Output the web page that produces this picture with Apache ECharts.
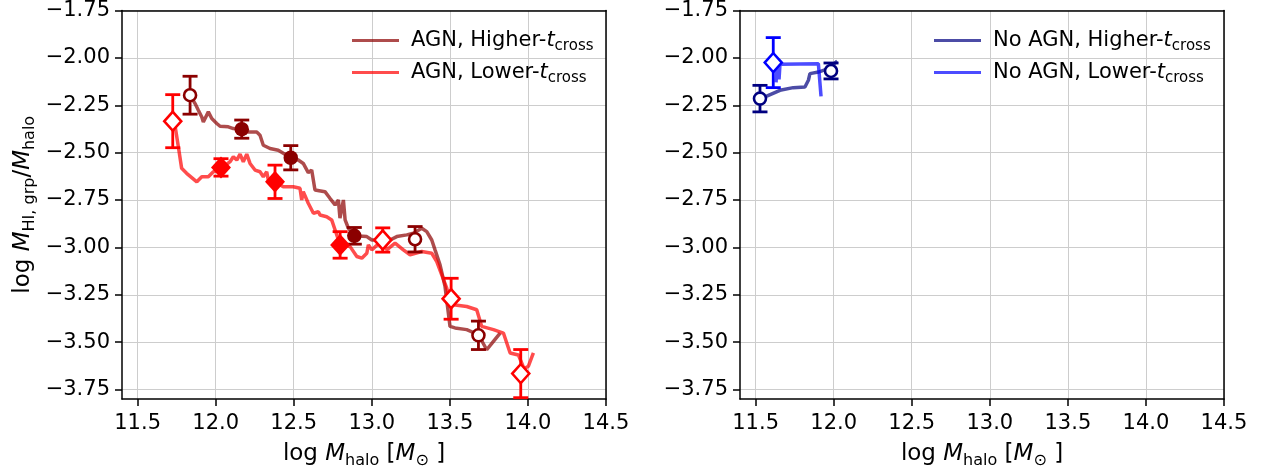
<!DOCTYPE html>
<html><head><meta charset="utf-8">
<script src="https://cdn.jsdelivr.net/npm/echarts@6/dist/echarts.min.js"></script>
<style>html,body{margin:0;padding:0;background:#fff}#c{width:1266px;height:474px}</style>
</head><body><div id="c"></div>
<script>
// ---- tick values ----
const xTicks = [11.5, 12.0, 12.5, 13.0, 13.5, 14.0, 14.5];
const yTicks = [-3.75, -3.5, -3.25, -3.0, -2.75, -2.5, -2.25, -2.0, -1.75];

// ---- running-median curves [log Mhalo, log MHI/Mhalo] ----
const agnHigherLine = [[11.836,-2.197],[11.868,-2.241],[11.889,-2.276],[11.911,-2.312],[11.921,-2.338],[11.953,-2.285],[11.975,-2.320],[12.007,-2.346],[12.028,-2.361],[12.081,-2.364],[12.113,-2.373],[12.162,-2.378],[12.209,-2.391],[12.263,-2.391],[12.284,-2.408],[12.305,-2.461],[12.348,-2.478],[12.401,-2.487],[12.481,-2.527],[12.529,-2.539],[12.561,-2.557],[12.593,-2.605],[12.604,-2.609],[12.615,-2.592],[12.636,-2.697],[12.700,-2.706],[12.732,-2.741],[12.765,-2.776],[12.786,-2.750],[12.796,-2.846],[12.818,-2.750],[12.829,-2.855],[12.850,-2.899],[12.888,-2.939],[12.968,-2.943],[13.000,-2.961],[13.032,-2.961],[13.074,-2.978],[13.117,-2.961],[13.160,-2.943],[13.224,-2.934],[13.266,-2.925],[13.320,-2.899],[13.352,-2.917],[13.384,-2.961],[13.405,-3.013],[13.437,-3.092],[13.469,-3.206],[13.501,-3.417],[13.533,-3.425],[13.608,-3.434],[13.683,-3.461],[13.736,-3.540],[13.779,-3.496],[13.822,-3.452]];
const agnLowerLine = [[11.736,-2.339],[11.761,-2.469],[11.782,-2.583],[11.814,-2.609],[11.879,-2.654],[11.911,-2.627],[11.953,-2.627],[11.985,-2.601],[12.039,-2.583],[12.092,-2.548],[12.113,-2.522],[12.135,-2.539],[12.156,-2.508],[12.177,-2.548],[12.199,-2.508],[12.220,-2.557],[12.252,-2.592],[12.284,-2.601],[12.305,-2.627],[12.327,-2.601],[12.337,-2.645],[12.380,-2.654],[12.433,-2.680],[12.497,-2.680],[12.540,-2.688],[12.551,-2.750],[12.561,-2.706],[12.593,-2.767],[12.626,-2.820],[12.658,-2.812],[12.668,-2.829],[12.711,-2.838],[12.743,-2.855],[12.765,-2.908],[12.797,-2.987],[12.861,-2.996],[12.904,-3.048],[12.936,-3.057],[12.968,-3.031],[12.978,-2.987],[13.000,-3.013],[13.070,-2.961],[13.096,-3.013],[13.149,-2.978],[13.202,-3.013],[13.245,-3.039],[13.320,-3.022],[13.384,-3.031],[13.416,-3.075],[13.448,-3.145],[13.480,-3.215],[13.501,-3.276],[13.522,-3.303],[13.608,-3.312],[13.672,-3.329],[13.704,-3.417],[13.779,-3.434],[13.843,-3.452],[13.886,-3.557],[13.939,-3.568],[13.975,-3.640],[14.003,-3.627],[14.035,-3.557]];
const noAgnHigherLine = [[11.528,-2.213],[11.560,-2.206],[11.656,-2.171],[11.741,-2.157],[11.816,-2.154],[11.838,-2.118],[11.848,-2.083],[11.902,-2.075],[11.966,-2.057],[12.023,-2.017]];
const noAgnLowerLine = [[11.631,-2.129],[11.637,-2.032],[11.650,-2.113],[11.656,-2.034],[11.902,-2.031],[11.919,-2.203]];

// ---- binned points [x, y, error, open(1)/filled(0)] ----
const agnHigherPts = [[11.836,-2.197,0.100,1],[12.167,-2.376,0.048,0],[12.481,-2.527,0.064,0],[12.888,-2.939,0.044,0],[13.277,-2.957,0.067,1],[13.683,-3.464,0.075,1]];
const agnLowerPts = [[11.725,-2.334,0.140,1],[12.034,-2.578,0.046,0],[12.380,-2.654,0.088,0],[12.797,-2.987,0.070,0],[13.070,-2.961,0.064,1],[13.508,-3.271,0.108,1],[13.954,-3.666,0.127,1]];
const noAgnHigherPts = [[11.528,-2.215,0.070,1],[11.983,-2.069,0.042,1]];
const noAgnLowerPts = [[11.613,-2.025,0.132,1]];

const FONT = 'DejaVu Sans';
const C = {
  agnHi: 'rgba(139,0,0,0.7)', agnLo: 'rgba(255,0,0,0.7)',
  noHi: 'rgba(0,0,128,0.7)', noLo: 'rgba(0,0,255,0.7)',
  mAgnHi: '#8b0000', mAgnLo: '#ff0000', mNoHi: '#000080', mNoLo: '#0000ff'
};

const chart = echarts.init(document.getElementById('c'), null, {renderer: 'canvas'});

const titleRich = {
  n: {fontFamily: FONT, fontSize: 23, color: '#000', lineHeight: 25},
  i: {fontFamily: FONT, fontSize: 23, color: '#000', fontStyle: 'italic', lineHeight: 25},
  s: {fontFamily: FONT, fontSize: 16, color: '#000', lineHeight: 16, padding: [13, 0, 0, 0]}
};
const legRich = {
  n: {fontFamily: FONT, fontSize: 21, color: '#000', lineHeight: 23},
  i: {fontFamily: FONT, fontSize: 21, color: '#000', fontStyle: 'italic', lineHeight: 23},
  s: {fontFamily: FONT, fontSize: 15, color: '#000', lineHeight: 15, padding: [12, 0, 0, 0]}
};
const GRIDC = '#cdcdcd';

function xAxis(idx) {
  return {
    type: 'value', gridIndex: idx, min: 11.4, max: 14.5,
    axisLine: {show: true, lineStyle: {color: '#000', width: 1.5}},
    axisTick: {show: true, length: 7, lineStyle: {color: '#000', width: 1.5}, customValues: xTicks},
    axisLabel: {fontFamily: FONT, fontSize: 21, color: '#000', margin: 14, customValues: xTicks,
      formatter: v => v.toFixed(1)},
    splitLine: {show: true, lineStyle: {color: GRIDC, width: 1}},
    name: '{n|log }{i|M}{s|halo}{n| [}{i|M}{s|⊙}{n| ]}',
    nameLocation: 'middle', nameGap: 43,
    nameTextStyle: {rich: titleRich}
  };
}
function frameX(idx) {
  return {type: 'value', gridIndex: idx, min: 11.4, max: 14.5, position: 'top',
    axisLine: {show: true, onZero: false, lineStyle: {color: '#000', width: 1.5}},
    axisTick: {show: false}, axisLabel: {show: false}, splitLine: {show: false}};
}
function frameY(idx) {
  return {type: 'value', gridIndex: idx, min: -3.8, max: -1.75, position: 'right',
    axisLine: {show: true, onZero: false, lineStyle: {color: '#000', width: 1.5}},
    axisTick: {show: false}, axisLabel: {show: false}, splitLine: {show: false}};
}
function yAxis(idx, withName) {
  const a = {
    type: 'value', gridIndex: idx, min: -3.8, max: -1.75,
    axisLine: {show: true, lineStyle: {color: '#000', width: 1.5}},
    axisTick: {show: true, length: 7, lineStyle: {color: '#000', width: 1.5}, customValues: yTicks},
    axisLabel: {fontFamily: FONT, fontSize: 21, color: '#000', margin: 12, customValues: yTicks,
      formatter: v => v.toFixed(2).replace('-', '\u2212')},
    splitLine: {show: true, lineStyle: {color: GRIDC, width: 1}}
  };
  if (withName) {
    a.name = '{n|log }{i|M}{s|HI, grp}{n|/}{i|M}{s|halo}';
    a.nameLocation = 'middle';
    a.nameRotate = 90;
    a.nameGap = 86;
    a.nameTextStyle = {rich: titleRich};
  }
  return a;
}

function lineSeries(name, data, color, gi) {
  return {
    name, type: 'line', data, xAxisIndex: gi, yAxisIndex: gi,
    showSymbol: false, symbol: 'none', smooth: false, z: 2,
    lineStyle: {color, width: 3.5}, itemStyle: {color}, silent: true, animation: false
  };
}
function errSeries(data, color, gi) {
  return {
    type: 'custom', xAxisIndex: gi, yAxisIndex: gi, z: 3, silent: true, animation: false,
    data: data.map(d => [d[0], d[1], d[2]]),
    encode: {x: 0, y: 1},
    renderItem(params, api) {
      const x = api.value(0), y = api.value(1), e = api.value(2);
      const top = api.coord([x, y + e]);
      const bot = api.coord([x, y - e]);
      const hw = 7.5;
      const st = {stroke: color, lineWidth: 2.8};
      return {type: 'group', children: [
        {type: 'line', shape: {x1: top[0], y1: top[1], x2: bot[0], y2: bot[1]}, style: st},
        {type: 'line', shape: {x1: top[0]-hw, y1: top[1], x2: top[0]+hw, y2: top[1]}, style: st},
        {type: 'line', shape: {x1: bot[0]-hw, y1: bot[1], x2: bot[0]+hw, y2: bot[1]}, style: st}
      ]};
    }
  };
}
function ptSeries(data, color, symbol, gi) {
  const big = symbol === 'diamond';
  return {
    type: 'scatter', xAxisIndex: gi, yAxisIndex: gi, z: 4, silent: true, animation: false,
    symbol,
    data: data.map(d => ({
      value: [d[0], d[1]],
      symbolSize: big ? (d[3] ? [17, 19] : [20, 22]) : (d[3] ? 12 : 14.5),
      itemStyle: d[3] ? {color: '#fff', borderColor: color, borderWidth: 2.6, opacity: 1}
                      : {color: color, borderColor: color, borderWidth: 0, opacity: 1}
    }))
  };
}

const legendFmt = name => '{n|' + name.replace(/-t$/, '-') + '}{i|t}{s|cross}';

const option = {
  backgroundColor: '#fff',
  animation: false,
  grid: [
    {left: 122, top: 10, width: 484, height: 390},
    {left: 740, top: 10, width: 484, height: 390}
  ],
  xAxis: [xAxis(0), xAxis(1), frameX(0), frameX(1)],
  yAxis: [yAxis(0, true), yAxis(1, false), frameY(0), frameY(1)],
  legend: [
    {data: ['AGN, Higher-t', 'AGN, Lower-t'], orient: 'vertical', left: 347, top: 22,
     icon: 'rect', itemWidth: 47, itemHeight: 3, itemGap: 5, formatter: legendFmt,
     textStyle: {rich: legRich, padding: [0, 0, 0, 7]}, selectedMode: false},
    {data: ['No AGN, Higher-t', 'No AGN, Lower-t'], orient: 'vertical', left: 929, top: 22,
     icon: 'rect', itemWidth: 47, itemHeight: 3, itemGap: 5, formatter: legendFmt,
     textStyle: {rich: legRich, padding: [0, 0, 0, 7]}, selectedMode: false}
  ],
  series: [
    lineSeries('AGN, Higher-t', agnHigherLine, C.agnHi, 0),
    lineSeries('AGN, Lower-t', agnLowerLine, C.agnLo, 0),
    lineSeries('No AGN, Higher-t', noAgnHigherLine, C.noHi, 1),
    lineSeries('No AGN, Lower-t', noAgnLowerLine, C.noLo, 1),
    errSeries(agnHigherPts, C.mAgnHi, 0),
    ptSeries(agnHigherPts, C.mAgnHi, 'circle', 0),
    errSeries(agnLowerPts, C.mAgnLo, 0),
    ptSeries(agnLowerPts, C.mAgnLo, 'diamond', 0),
    errSeries(noAgnHigherPts, C.mNoHi, 1),
    ptSeries(noAgnHigherPts, C.mNoHi, 'circle', 1),
    errSeries(noAgnLowerPts, C.mNoLo, 1),
    ptSeries(noAgnLowerPts, C.mNoLo, 'diamond', 1)
  ]
};
chart.setOption(option);
</script>
</body></html>
